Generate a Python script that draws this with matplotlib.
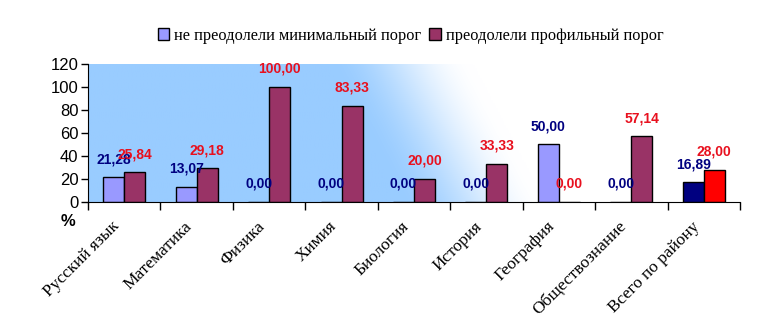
import matplotlib
matplotlib.use("Agg")
import matplotlib.pyplot as plt
from matplotlib.patches import Patch
from matplotlib.transforms import ScaledTranslation
import numpy as np

categories = ["Русский язык", "Математика", "Физика", "Химия", "Биология",
              "История", "География", "Обществознание", "Всего по району"]
not_min = [21.28, 13.07, 0.00, 0.00, 0.00, 0.00, 50.00, 0.00, 16.89]
passed_prof = [25.84, 29.18, 100.00, 83.33, 20.00, 33.33, 0.00, 57.14, 28.00]
legend_labels = ["не преодолели минимальный порог", "преодолели профильный порог"]

c1, c2 = "#9999FF", "#993366"
c1_last, c2_last = "#000080", "#FF0000"

fig = plt.figure(figsize=(7.59, 3.36), dpi=100)
ax = fig.add_axes([0.116, 0.399, 0.859, 0.411])

n = len(categories)
x = np.arange(n)
w = 0.29

# background: light blue at bottom-left fading diagonally to white
gx, gy = np.meshgrid(np.linspace(0, 1, 400), np.linspace(0, 1, 100))  # gy: 0 top, 1 bottom
start = 0.37 + 0.11 * gy
t = np.clip((gx - start) / 0.22, 0, 1)
t = t * t * (3 - 2 * t)
blue = np.array([153, 204, 255]) / 255
rgb = blue * (1 - t[..., None]) + t[..., None]
ax.imshow(rgb, extent=[-0.5, n - 0.5, 0, 120], aspect="auto",
          zorder=0, interpolation="bilinear")

cols1 = [c1] * (n - 1) + [c1_last]
cols2 = [c2] * (n - 1) + [c2_last]
ax.bar(x - w / 2, not_min, w, color=cols1, edgecolor="black", linewidth=1, zorder=2)
ax.bar(x + w / 2, passed_prof, w, color=cols2, edgecolor="black", linewidth=1, zorder=2)

for i in range(n):
    ax.annotate(f"{not_min[i]:.2f}".replace(".", ","), (x[i] - w / 2, not_min[i]),
                xytext=(0, 13), textcoords="offset points", ha="center", va="center",
                color="#000080", fontsize=10, fontweight="bold", family="Liberation Sans",
                zorder=3)
    ax.annotate(f"{passed_prof[i]:.2f}".replace(".", ","), (x[i] + w / 2, passed_prof[i]),
                xytext=(0, 13), textcoords="offset points", ha="center", va="center",
                color="#E8101E", fontsize=10, fontweight="bold", family="Liberation Sans",
                zorder=3)

ax.set_xlim(-0.5, n - 0.5)
ax.set_ylim(0, 120)
ax.set_yticks(range(0, 121, 20))
ax.tick_params(axis="y", labelsize=12, length=5, width=1, pad=2)
for lab in ax.get_yticklabels():
    lab.set_family("Liberation Sans")

ax.set_xticks(np.arange(-0.5, n, 1))
ax.set_xticklabels([])
ax.tick_params(axis="x", length=6, width=1)
ax.set_xticks(x, minor=True)
ax.set_xticklabels(categories, minor=True, rotation=45, ha="right", va="center",
                   rotation_mode="anchor", family="Liberation Serif", fontsize=12.5)
ax.tick_params(axis="x", which="minor", length=0, pad=16)
shift = ScaledTranslation(-7 / 100, 0, fig.dpi_scale_trans)
for lab in ax.get_xticklabels(minor=True):
    lab.set_transform(lab.get_transform() + shift)

for s in ["top", "right"]:
    ax.spines[s].set_visible(False)

fig.text(0.09, 0.34, "%", ha="center", va="center", fontsize=12,
         fontweight="bold", family="Liberation Sans")

handles = [Patch(facecolor=c1, edgecolor="black"), Patch(facecolor=c2, edgecolor="black")]
fig.legend(handles, legend_labels, loc="center", bbox_to_anchor=(0.541, 0.893), ncol=2,
           frameon=False, prop={"family": "Liberation Serif", "size": 11.8},
           handlelength=0.7, handleheight=0.7, handletextpad=0.3, columnspacing=0.5)

fig.savefig("out.png", dpi=100)
